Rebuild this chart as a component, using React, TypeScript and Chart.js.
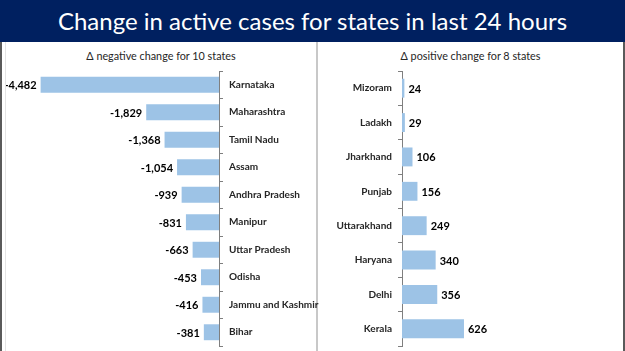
import React, { useEffect, useRef } from "react";
import { Chart, registerables } from "chart.js";

Chart.register(...registerables);

const titleText = "Change in active cases for states in last 24 hours";
const negSubtitle = "Δ negative change for 10 states";
const posSubtitle = "Δ positive change for 8 states";

const negStates = [
  "Karnataka",
  "Maharashtra",
  "Tamil Nadu",
  "Assam",
  "Andhra Pradesh",
  "Manipur",
  "Uttar Pradesh",
  "Odisha",
  "Jammu and Kashmir",
  "Bihar",
];
const negValues = [-4482, -1829, -1368, -1054, -939, -831, -663, -453, -416, -381];

const posStates = [
  "Mizoram",
  "Ladakh",
  "Jharkhand",
  "Punjab",
  "Uttarakhand",
  "Haryana",
  "Delhi",
  "Kerala",
];
const posValues = [24, 29, 106, 156, 249, 340, 356, 626];

const BAR_COLOR = "#9dc3e6";
const AXIS_COLOR = "#7f7f7f";
const LABEL_FONT = "Lato, 'DejaVu Sans', sans-serif";

const fmt = (v: number) => v.toLocaleString("en-US");

const valueLabels = {
  id: "valueLabels",
  afterDatasetsDraw(chart: any, _args: any, opts: any) {
    const ctx = chart.ctx;
    const meta = chart.getDatasetMeta(0);
    const data = chart.data.datasets[0].data as number[];
    ctx.save();
    ctx.font = opts.font;
    ctx.fillStyle = opts.color;
    ctx.textBaseline = "middle";
    meta.data.forEach((el: any, i: number) => {
      const v = data[i];
      const neg = v < 0;
      ctx.textAlign = neg ? "right" : "left";
      ctx.fillText(fmt(v), el.x + (neg ? -opts.offset : opts.offset), el.y + 1);
    });
    ctx.restore();
  },
};

type PanelProps = {
  labels: string[];
  values: number[];
  min: number;
  max: number;
  axisPos: "left" | "right";
  axisWidth: number;
  padding: { left: number; right: number; top: number; bottom: number };
  barPct: number;
  width: number;
  height: number;
};

function BarPanel(p: PanelProps) {
  const ref = useRef<HTMLCanvasElement | null>(null);
  useEffect(() => {
    if (!ref.current) return;
    const chart = new Chart(ref.current, {
      type: "bar",
      data: {
        labels: p.labels,
        datasets: [
          {
            data: p.values,
            backgroundColor: BAR_COLOR,
            borderWidth: 0,
            barPercentage: p.barPct,
            categoryPercentage: 1,
          },
        ],
      },
      options: {
        indexAxis: "y",
        responsive: false,
        devicePixelRatio: 1,
        animation: false,
        layout: { padding: p.padding },
        plugins: {
          legend: { display: false },
          tooltip: { enabled: false },
          valueLabels: { font: `bold 11px ${LABEL_FONT}`, color: "#000000", offset: 4 },
        } as any,
        scales: {
          x: { display: false, min: p.min, max: p.max },
          y: {
            position: p.axisPos,
            afterFit: (scale: any) => {
              scale.width = p.axisWidth;
              scale.paddingTop = 0;
              scale.paddingBottom = 0;
            },
            border: { display: true, color: AXIS_COLOR, width: 1 },
            grid: {
              offset: true,
              drawOnChartArea: false,
              drawTicks: true,
              tickLength: 4,
              color: AXIS_COLOR,
            },
            ticks: {
              padding: 6,
              color: "#262626",
              font: { family: LABEL_FONT, size: 10, weight: "bold" },
            },
          },
        },
      },
      plugins: [valueLabels as any],
    });
    return () => chart.destroy();
  }, []);
  return <canvas ref={ref} width={p.width} height={p.height} style={{ display: "block" }} />;
}

export default function App() {
  return (
    <div
      style={{
        position: "fixed",
        left: 0,
        top: 0,
        width: 625,
        height: 351,
        background: "#ffffff",
        overflow: "hidden",
        fontFamily: LABEL_FONT,
      }}
    >
      <div
        style={{
          position: "absolute",
          left: 0,
          top: 0,
          width: 625,
          height: 42,
          background: "#002060",
          color: "#ffffff",
          fontFamily: "Lato, sans-serif",
          fontSize: 24,
          lineHeight: "42px",
          textAlign: "center",
          whiteSpace: "nowrap",
        }}
      >
        {titleText}
      </div>
      {/* divider under the charts so long labels stay readable */}
      <div style={{ position: "absolute", left: 316, top: 42, width: 2, height: 309, background: "#c8c8c8" }} />
      <div
        style={{
          position: "absolute",
          left: 6,
          top: 49,
          width: 310,
          textAlign: "center",
          fontSize: 10.8,
          color: "#262626",
        }}
      >
        {negSubtitle}
      </div>
      <div
        style={{
          position: "absolute",
          left: 318,
          top: 49,
          width: 305,
          textAlign: "center",
          fontSize: 10.8,
          color: "#262626",
        }}
      >
        {posSubtitle}
      </div>
      <div style={{ position: "absolute", left: 0, top: 42 }}>
        <BarPanel
          labels={negStates}
          values={negValues}
          min={-5000}
          max={0}
          axisPos="right"
          axisWidth={106}
          padding={{ left: 20, right: 0, top: 29, bottom: 5 }}
          barPct={0.58}
          width={325}
          height={309}
        />
      </div>
      <div style={{ position: "absolute", left: 318, top: 42 }}>
        <BarPanel
          labels={posStates}
          values={posValues}
          min={0}
          max={2000}
          axisPos="left"
          axisWidth={84}
          padding={{ left: 0, right: 23, top: 29, bottom: 5 }}
          barPct={0.55}
          width={305}
          height={309}
        />
      </div>
      {/* outer borders */}
      <div style={{ position: "absolute", left: 0, top: 42, width: 2, height: 309, background: "#5a5a5a" }} />
      <div style={{ position: "absolute", left: 5, top: 42, width: 1, height: 309, background: "#e4e4e4" }} />
      <div style={{ position: "absolute", left: 623, top: 42, width: 2, height: 309, background: "#5a5a5a" }} />
    </div>
  );
}
